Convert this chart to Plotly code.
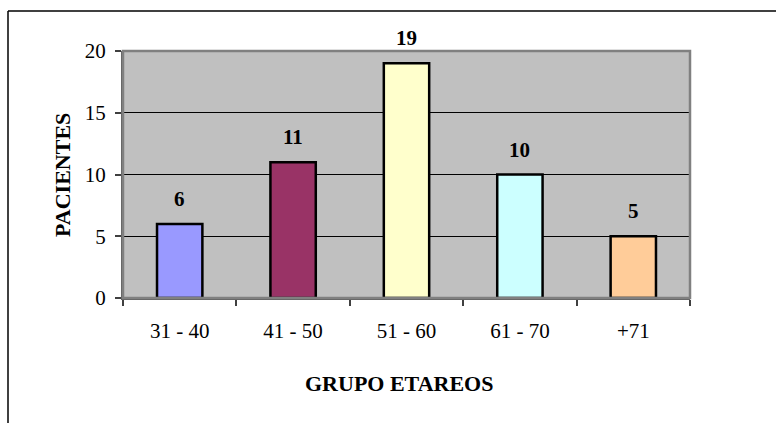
import plotly.graph_objects as go

categories = ["31 - 40", "41 - 50", "51 - 60", "61 - 70", "+71"]
pacientes = [6, 11, 19, 10, 5]
bar_colors = ["#9999FF", "#993366", "#FFFFCC", "#CCFFFF", "#FFCC99"]
y_ticks = [0, 5, 10, 15, 20]

W, H = 776, 423
L, R, T, B = 123, 86, 51, 125
pw, ph = W - L - R, H - T - B

FONT = "Liberation Serif"

fig = go.Figure()
fig.add_trace(go.Bar(
    x=categories, y=pacientes, width=0.4,
    marker=dict(color=bar_colors, line=dict(color="black", width=2.5)),
    hoverinfo="skip",
))

for i, v in enumerate(pacientes):
    fig.add_annotation(x=i, y=v, text=f"<b>{v}</b>", showarrow=False,
                       yanchor="middle", yshift=25,
                       font=dict(family=FONT, size=21, color="black"))

# axis titles
fig.add_annotation(xref="paper", yref="paper", x=(399 - L) / pw, y=-(383 - (T + ph)) / ph,
                   text="<b>GRUPO ETAREOS</b>", showarrow=False,
                   xanchor="center", yanchor="middle",
                   font=dict(family=FONT, size=22, color="black"))
fig.add_annotation(xref="paper", yref="paper", x=-(L - 62) / pw, y=1 - (175 - T) / ph,
                   text="<b>PACIENTES</b>", showarrow=False, textangle=-90,
                   xanchor="center", yanchor="middle",
                   font=dict(family=FONT, size=22, color="black"))

# plot-area border (gray) and outer chart border (black)
fig.add_shape(type="rect", xref="paper", yref="paper", x0=0, y0=0, x1=1, y1=1,
              line=dict(color="#808080", width=2.5), layer="above")
x_left = (8 - L) / pw
x_right = (W - L) / pw
y_top = 1 + (T - 11) / ph
y_bot = -(H - (T + ph)) / ph
fig.add_shape(type="line", xref="paper", yref="paper", x0=x_left, x1=x_right, y0=y_top, y1=y_top,
              line=dict(color="black", width=1.5))
fig.add_shape(type="line", xref="paper", yref="paper", x0=x_left, x1=x_left, y0=y_top, y1=y_bot,
              line=dict(color="black", width=1.5))

fig.update_layout(
    width=W, height=H,
    margin=dict(l=L, r=R, t=T, b=B, pad=0),
    paper_bgcolor="white", plot_bgcolor="#C0C0C0",
    showlegend=False,
    font=dict(family=FONT, size=21, color="black"),
    xaxis=dict(
        type="category", categoryorder="array", categoryarray=categories,
        range=[-0.5, len(categories) - 0.5],
        tickson="boundaries", ticks="outside", ticklen=6,
        tickcolor="#404040", tickwidth=1.5, tickangle=0,
        showline=True, linecolor="#606060", linewidth=2,
        showgrid=False, zeroline=False,
        ticklabelstandoff=13,
        tickfont=dict(family=FONT, size=21, color="black"),
    ),
    yaxis=dict(
        range=[0, 20], tickvals=y_ticks, ticks="outside", ticklen=6,
        tickcolor="#404040", tickwidth=1.5,
        showline=True, linecolor="#606060", linewidth=2,
        showgrid=True, gridcolor="black", gridwidth=1,
        zeroline=False, ticklabelstandoff=5,
        tickfont=dict(family=FONT, size=21, color="black"),
    ),
)

fig.write_html("out.html")
